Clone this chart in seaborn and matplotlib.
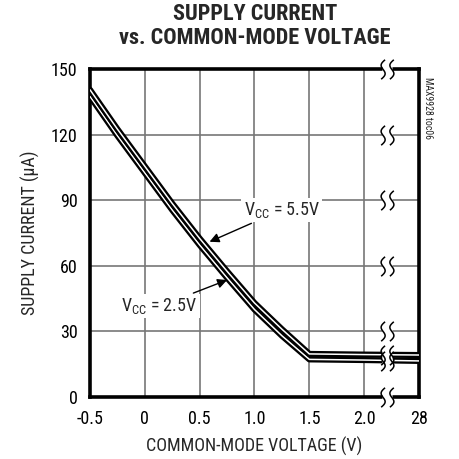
import numpy as np
import pandas as pd
import matplotlib
matplotlib.use("Agg")
import matplotlib.pyplot as plt
import seaborn as sns
from matplotlib.path import Path
import matplotlib.patheffects as pe
import logging
logging.getLogger("matplotlib.font_manager").setLevel(logging.ERROR)

# ---- data ----
volts = [-0.5, -0.25, 0.0, 0.25, 0.5, 0.75, 1.0, 1.25, 1.5, 2.0, 28]
i_55 = [140.5, 122.5, 105.5, 88.5, 72.5, 57.5, 43, 31, 19.7, 19.4, 19.2]
i_25 = [137.5, 119.5, 102.5, 85.5, 69.5, 54.5, 40, 28, 17.2, 16.9, 16.5]
x_ticks = [-0.5, 0, 0.5, 1.0, 1.5, 2.0, 28]
x_tick_labels = ["-0.5", "0", "0.5", "1.0", "1.5", "2.0", "28"]
y_ticks = [0, 30, 60, 90, 120, 150]

def pos(v):
    return v if v <= 2.0 else 2.5

df = pd.DataFrame({
    "x": [pos(v) for v in volts] * 2,
    "I": i_55 + i_25,
    "series": ["5.5"] * len(volts) + ["2.5"] * len(volts),
})

sns.set_style("white")
NARROW = ['Roboto Condensed', 'Archivo Narrow', 'Liberation Sans Narrow',
          'IBM Plex Sans Condensed', 'Liberation Sans', 'DejaVu Sans']
plt.rcParams['font.family'] = NARROW

fig = plt.figure(figsize=(4.59, 4.59), dpi=100)
ax = fig.add_axes([90/459, 62/459, 329/459, 328/459])

ax.set_xlim(-0.5, 2.5)
ax.set_ylim(0, 150)
ax.set_xticks([pos(v) for v in x_ticks])
ax.set_xticklabels(x_tick_labels)
ax.set_yticks(y_ticks)
ax.grid(True, color="#777777", linewidth=1.2)
ax.set_axisbelow(True)
ax.tick_params(axis="both", length=0, labelsize=13, colors="black", pad=9)
for s in ax.spines.values():
    s.set_linewidth(2.6)
    s.set_color("black")

sns.lineplot(data=df, x="x", y="I", units="series", estimator=None,
             color="black", linewidth=4, ax=ax, legend=False, zorder=3,
             path_effects=[pe.Stroke(linewidth=4.4, foreground="black"),
                           pe.Stroke(linewidth=1.1, foreground="white")])

# break marks
t = np.linspace(-1, 1, 30)
sx = -0.3 * np.sin(np.pi * t) + 0.2 * t
sy = t
verts = list(zip(sx - 0.45, sy)) + list(zip(sx + 0.45, sy))
codes = ([Path.MOVETO] + [Path.LINETO] * 29) * 2
brk = Path(verts, codes)
bx = 2.21
bys = y_ticks + [i_55[-1], i_25[-1]]
ax.plot([bx] * len(bys), bys, linestyle="none", marker="s", markersize=7,
        markerfacecolor="white", markeredgecolor="none", zorder=4, clip_on=False)
ax.plot([bx] * len(bys), bys, linestyle="none", marker=brk, markersize=14,
        markerfacecolor="none", markeredgecolor="black", markeredgewidth=1.1,
        zorder=5, clip_on=False)

# annotations
ax.annotate("V$_{\\mathregular{CC}}$ = 5.5V", xy=(0.59, 71), xytext=(0.9, 85.5),
            fontsize=13, ha="left", va="center",
            bbox=dict(boxstyle="square,pad=0.12", fc="white", ec="none"),
            arrowprops=dict(arrowstyle="-|>", color="black", lw=1.0,
                            mutation_scale=14, shrinkA=2, shrinkB=0), zorder=6)
ax.annotate("V$_{\\mathregular{CC}}$ = 2.5V", xy=(0.75, 53.5), xytext=(0.48, 41.5),
            fontsize=13, ha="right", va="center",
            bbox=dict(boxstyle="square,pad=0.12", fc="white", ec="none"),
            arrowprops=dict(arrowstyle="-|>", color="black", lw=1.0,
                            mutation_scale=14, shrinkA=2, shrinkB=0), zorder=6)

ax.set_xlabel("COMMON-MODE VOLTAGE (V)", fontsize=13, labelpad=7)
ax.set_ylabel("SUPPLY CURRENT (\u03bcA)", fontsize=13, labelpad=8)

fig.text(255/459, 1 - 26/459, "SUPPLY CURRENT\nvs. COMMON-MODE VOLTAGE",
         ha="center", va="center", fontsize=16, fontweight="heavy", linespacing=1.1,
         family=['Roboto Condensed', 'Archivo Narrow', 'Liberation Sans Narrow',
                 'Liberation Sans'])
fig.text(428/459, 1 - 108/459, "MAX9928 toc06", rotation=270, ha="center",
         va="center", fontsize=7)

fig.savefig("out.png", dpi=100)
